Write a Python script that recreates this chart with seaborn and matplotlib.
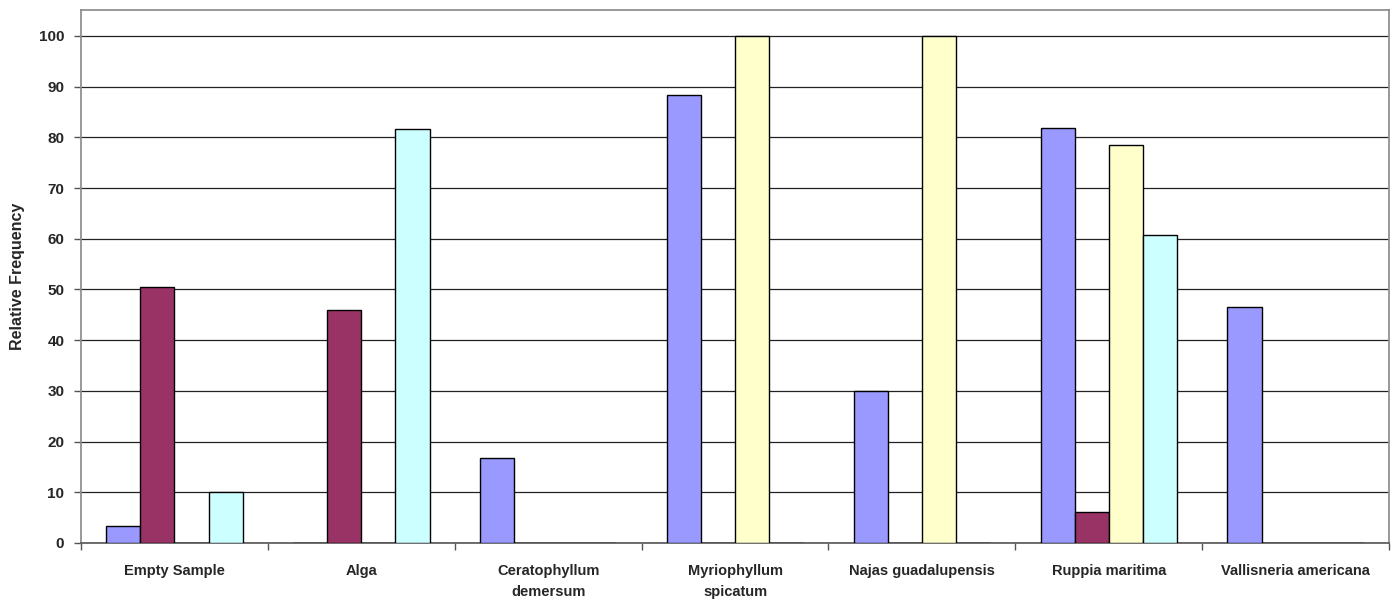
import matplotlib
matplotlib.use("Agg")
import matplotlib.pyplot as plt
import seaborn as sns
import pandas as pd
import numpy as np

categories = ["Empty Sample", "Alga", "Ceratophyllum\ndemersum", "Myriophyllum\nspicatum",
              "Najas guadalupensis", "Ruppia maritima", "Vallisneria americana"]
series_names = ["Series 1", "Series 2", "Series 3", "Series 4"]
series1 = [3.3, 0, 16.7, 88.3, 30.0, 81.8, 46.6]
series2 = [50.5, 46.0, 0, 0, 0, 6.2, 0]
series3 = [0, 0, 0, 100, 100, 78.4, 0]
series4 = [10.0, 81.6, 0, 0, 0, 60.7, 0]
yticks = [0, 10, 20, 30, 40, 50, 60, 70, 80, 90, 100]
palette = ["#9999FF", "#993366", "#FFFFCC", "#CCFFFF"]

sns.set_theme(style="white")
plt.rcParams["font.family"] = ["Liberation Sans", "DejaVu Sans"]

rows = []
for name, vals in zip(series_names, [series1, series2, series3, series4]):
    for cat, v in zip(categories, vals):
        rows.append({"category": cat, "series": name, "value": v})
df = pd.DataFrame(rows)

fig = plt.figure(figsize=(13.97, 6.04), dpi=100)
ax = fig.add_axes([0.058, 0.101, 0.9363, 0.8824])

sns.barplot(data=df, x="category", y="value", hue="series", order=categories,
            hue_order=series_names, palette=palette, saturation=1, width=0.73,
            edgecolor="black", linewidth=1.0, errorbar=None, legend=False,
            zorder=3, ax=ax)

ax.set_ylim(0, 105.1)
ax.set_xlim(-0.5, len(categories) - 0.5)
ax.set_yticks(yticks)
ax.set_yticklabels([str(t) for t in yticks], fontsize=11, fontweight="bold")
ax.yaxis.grid(True, color="#222222", linewidth=0.9, zorder=0)
ax.set_axisbelow(True)

ax.set_xticks(range(len(categories)))
ax.set_xticklabels(categories, fontsize=10.5, fontweight="bold", linespacing=1.65)
ax.tick_params(axis="x", which="major", length=0, pad=15)
ax.set_xticks(np.arange(-0.5, len(categories), 1.0), minor=True)
ax.tick_params(axis="x", which="minor", length=5, width=1, color="#555555",
               direction="out", bottom=True)
ax.tick_params(axis="y", length=5, width=1, color="#555555", direction="out",
               left=True, pad=7)

ax.set_xlabel("")
ax.set_ylabel("Relative Frequency", fontsize=11.5, fontweight="bold", labelpad=10)

for side in ["left", "right", "top", "bottom"]:
    ax.spines[side].set_visible(True)
    ax.spines[side].set_color("#888888")
    ax.spines[side].set_linewidth(1.2)
ax.spines["bottom"].set_color("#555555")

fig.savefig("out.png", dpi=100, facecolor="white")
